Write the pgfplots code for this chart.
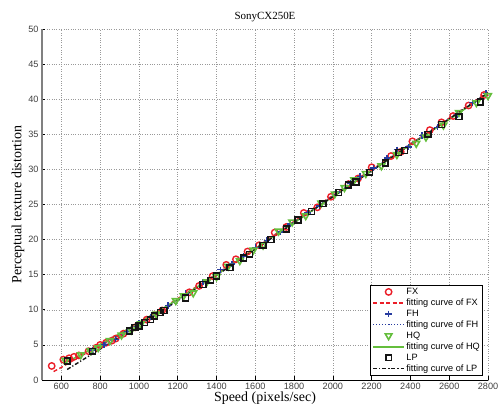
\documentclass[border=0pt]{standalone}
\usepackage{fontspec}
\setmainfont{Liberation Serif}
\setsansfont{Liberation Sans}
\usepackage{pgfplots}
\usetikzlibrary{calc}
\pgfplotsset{compat=1.18}
\definecolor{cFX}{RGB}{235,30,40}
\definecolor{cFH}{RGB}{40,60,160}
\definecolor{cHQ}{RGB}{100,190,60}
\definecolor{cLP}{RGB}{20,20,20}
\begin{document}
\begin{tikzpicture}
\begin{axis}[
  scale only axis,
  width=446bp, height=351bp,
  xmin=500, xmax=2800, ymin=0, ymax=50,
  xtick={600,800,...,2800}, ytick={0,5,...,50},
  axis lines=left,
  axis line style={-},
  x axis line style={black, line width=0.8pt},
  y axis line style={gray, line width=1.2pt},
  tick align=inside,
  major tick length=3.5bp,
  tick style={black, line width=0.6pt},
  grid=major,
  grid style={dotted, gray!80, line width=0.5pt},
  /pgf/number format/assume math mode=true,
  /pgf/number format/set thousands separator={},
  ticklabel style={font=\fontsize{9.2}{10}\selectfont\sffamily, text=black!75},
  xticklabel style={yshift=0bp},
  title={SonyCX250E},
  title style={font=\fontsize{11}{13}\selectfont, yshift=-2bp},
  xlabel={Speed (pixels/sec)},
  ylabel={Perceptual texture distortion},
  label style={font=\fontsize{14}{16}\selectfont},
  xlabel style={yshift=5bp},
  ylabel style={yshift=-3bp},
  legend style={at={(0.989,0.011)}, anchor=south east, font=\fontsize{9.2}{10.5}\selectfont\sffamily, draw=black, line width=0.7pt, inner sep=1.5pt, row sep=0pt},
  legend cell align=left,
  legend image code/.code={\draw[mark repeat=2,mark phase=2,#1] plot coordinates {(0cm,0cm)(0.55cm,0cm)(1.1cm,0cm)};},
  every axis legend/.append style={nodes={inner sep=1.5pt}},
]
\coordinate (ll) at (rel axis cs:0,0);
\coordinate (ur) at (rel axis cs:1,1);
% FX points
\addplot[only marks, mark=o, mark size=3.2bp, cFX, line width=1.4pt] coordinates {
(550,2.0)(610,2.9)(640,3.1)(665,3.3)(690,3.5)(740,4.1)(780,4.6)(800,5.0)(830,5.3)(860,5.6)(880,5.9)(920,6.6)(980,7.5)(1040,8.6)(1080,9.2)(1120,9.9)(1260,12.5)(1310,13.4)(1380,14.8)(1450,16.4)(1500,17.2)(1560,18.3)(1620,19.2)(1700,21.0)(1760,21.8)(1850,23.8)(1920,24.6)(1990,26.1)(2080,27.9)(2130,28.7)(2200,30.3)(2300,31.9)(2350,32.5)(2410,34.0)(2500,35.6)(2560,36.7)(2620,37.6)(2700,39.1)(2780,40.6)
};
\addlegendentry{FX}
\addplot[cFX, dash pattern=on 4bp off 2.5bp, line width=1.4pt] coordinates {
(560,1.2)(600,1.8)(700,3.4)(800,4.9)(900,6.5)(1000,8.1)(1100,9.8)(1200,11.6)(1400,15.1)(1600,18.8)(1800,22.6)(2000,26.3)(2200,30.0)(2400,33.6)(2600,37.3)(2800,41.0)
};
\addlegendentry{fitting curve of FX}
% FH points
\addplot[only marks, mark=+, mark size=3.2bp, cFH, line width=1.4pt] coordinates {
(760,4.3)(820,5.0)(880,5.8)(940,6.9)(1000,8.1)(1060,9.0)(1150,10.6)(1240,12.3)(1330,14.0)(1420,15.7)(1480,16.5)(1540,17.6)(1600,18.9)(1660,19.9)(1730,21.1)(1780,22.2)(1870,23.8)(1930,24.8)(2020,26.8)(2090,28.0)(2140,29.0)(2210,30.2)(2280,31.6)(2330,32.8)(2390,33.2)(2460,34.8)(2540,36.0)(2640,37.8)(2720,39.5)(2790,40.8)
};
\addlegendentry{FH}
\addplot[cFH, dash pattern=on 1.3bp off 1.7bp, line width=1.4pt] coordinates {
(760,4.1)(800,4.8)(900,6.4)(1000,8.0)(1100,9.7)(1200,11.5)(1400,15.0)(1600,18.7)(1800,22.5)(2000,26.2)(2200,29.9)(2400,33.6)(2600,37.2)(2800,40.9)
};
\addlegendentry{fitting curve of FH}
% HQ points
\addplot[only marks, mark=triangle, mark size=3.8bp, mark options={rotate=180}, cHQ, line width=1.6pt] coordinates {
(620,2.8)(700,3.6)(750,4.2)(790,4.6)(850,5.6)(910,6.4)(960,7.1)(1010,8.0)(1090,9.4)(1190,11.3)(1230,12.0)(1280,12.4)(1350,14.0)(1400,14.7)(1460,16.2)(1520,17.0)(1590,18.5)(1640,19.2)(1720,21.2)(1790,22.5)(1860,23.4)(1940,25.2)(2010,26.5)(2060,27.4)(2110,28.5)(2170,29.4)(2250,30.5)(2330,32.1)(2430,33.7)(2480,34.6)(2570,36.3)(2650,38.1)(2740,39.5)(2800,40.5)
};
\addlegendentry{HQ}
\addplot[cHQ, solid, line width=1.4pt] coordinates {
(610,2.3)(700,3.6)(800,5.1)(900,6.6)(1000,8.2)(1100,9.8)(1200,11.5)(1400,15.0)(1600,18.7)(1800,22.4)(2000,26.1)(2200,29.8)(2400,33.5)(2600,37.1)(2800,40.8)
};
\addlegendentry{fitting curve of HQ}
% LP points
\addplot[only marks, mark=square, mark size=2.9bp, cLP, line width=1.6pt] coordinates {
(630,2.7)(760,4.1)(950,7.0)(980,7.5)(1000,7.7)(1030,8.2)(1060,8.6)(1080,9.1)(1110,9.6)(1130,9.9)(1240,11.7)(1330,13.6)(1370,14.2)(1400,14.8)(1470,16.0)(1540,17.4)(1570,17.9)(1640,19.2)(1680,20.0)(1760,21.5)(1820,22.8)(1890,24.0)(1950,25.1)(2030,26.7)(2080,27.8)(2120,28.2)(2190,29.6)(2270,30.9)(2340,32.4)(2370,32.7)(2490,35.0)(2560,36.4)(2650,37.5)(2760,39.6)
};
\addlegendentry{LP}
\addplot[cLP, dash pattern=on 4bp off 2bp on 1.2bp off 2bp, line width=1.4pt] coordinates {
(630,1.5)(700,2.7)(800,4.4)(900,6.1)(1000,7.8)(1100,9.5)(1200,11.3)(1400,14.9)(1600,18.6)(1800,22.4)(2000,26.1)(2200,29.8)(2400,33.5)(2600,37.2)(2800,40.9)
};
\addlegendentry{fitting curve of LP}
\end{axis}
\pgfresetboundingbox
\path[use as bounding box] ($(ll)+(-42bp,-33bp)$) rectangle ($(ur)+(12bp,29bp)$);
\end{tikzpicture}
\end{document}
